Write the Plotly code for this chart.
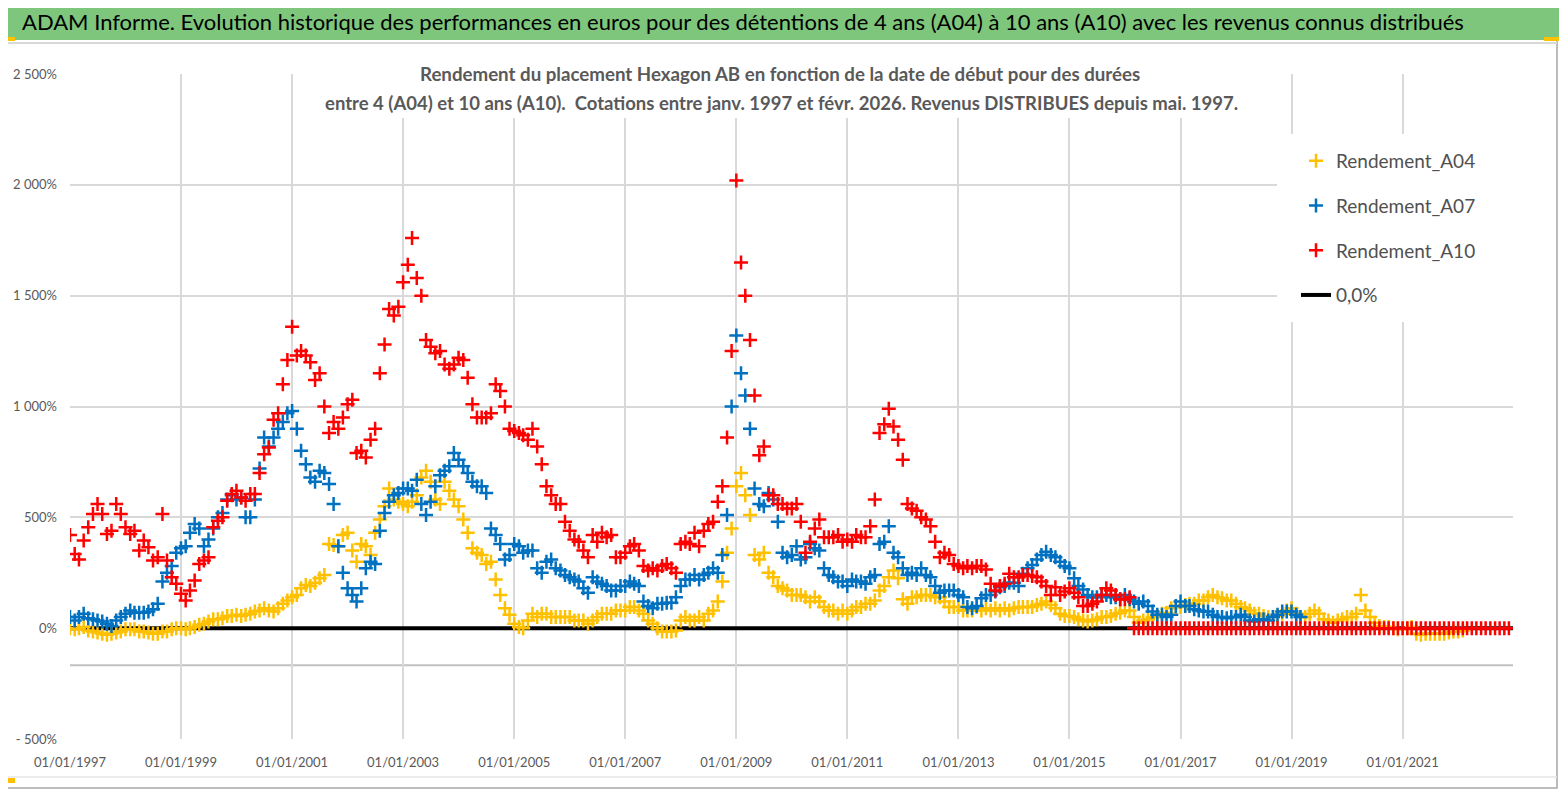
import pandas as pd
import plotly.graph_objects as go

# la page ajoute une marge de 8 px autour de la figure
OFF = 8
W, H = 1567 - OFF, 790 - OFF

# rendements (%), un point par mois a partir de janv. 1997
rdt_a04 = [
    0, -5, 0, 5, -10, -15, -20, -25, -30, -25, -20, -15,            # 1997
    -5, -5, -5, -15, -15, -20, -25, -25, -15, -15, -5, 0,           # 1998
    0, -5, 0, 5, 15, 20, 30, 40, 40, 45, 55, 55,                    # 1999
    60, 55, 60, 65, 75, 80, 90, 80, 75, 90, 110, 125,               # 2000
    140, 150, 180, 195, 190, 205, 225, 240, 380, 375, 370, 420,     # 2001
    430, 350, 300, 380, 370, 330, 430, 490, 550, 630, 580, 570,     # 2002
    560, 550, 570, 600, 680, 710, 660, 580, 560, 660, 620, 580,     # 2003
    550, 490, 430, 360, 340, 330, 290, 300, 220, 150, 90, 60,       # 2004
    20, 5, 0, 35, 65, 50, 65, 65, 50, 50, 50, 50,                   # 2005
    50, 35, 35, 35, 20, 35, 50, 65, 65, 65, 80, 80,                 # 2006
    80, 95, 95, 80, 65, 35, 20, 0, -15, -15, -15, -10,              # 2007
    35, 50, 35, 35, 50, 35, 65, 80, 120, 210, 340, 450,             # 2008
    640, 700, 600, 510, 330, 310, 340, 250, 230, 190, 180, 170,     # 2009
    150, 150, 150, 140, 120, 140, 120, 95, 80, 80, 65, 80,          # 2010
    65, 80, 95, 95, 110, 110, 125, 170, 190, 230, 260, 225,         # 2011
    130, 110, 140, 140, 150, 150, 150, 140, 140, 120, 95, 95,       # 2012
    95, 80, 80, 80, 95, 80, 90, 80, 90, 80, 90, 80,                 # 2013
    90, 95, 95, 95, 95, 105, 110, 120, 105, 90, 65, 55,             # 2014
    55, 50, 40, 35, 30, 35, 40, 50, 50, 55, 65, 70,                 # 2015
    80, 80, 50, 25, 35, 40, 50, 55, 65, 70, 90, 95,                 # 2016
    95, 105, 110, 110, 125, 125, 140, 150, 140, 135, 125, 125,      # 2017
    110, 95, 90, 80, 65, 65, 55, 50, 50, 55, 65, 80,                # 2018
    90, 65, 50, 50, 65, 80, 65, 40, 35, 25, 35, 40,                 # 2019
    50, 50, 65, 150, 80, 50, 25, 10, 5, 5, 0, -5,                   # 2020
    0, 0, 5, -25, -30, -25, -25, -25, -25, -25, -20, -15,           # 2021
    -15, -10,                                                       # 2022
]

rdt_a07 = [
    50, 35, 50, 65, 45, 40, 35, 30, 20, 10, 35, 50,                 # 1997
    65, 80, 70, 70, 70, 75, 85, 110, 210, 250, 280, 340,            # 1998
    360, 370, 430, 470, 450, 370, 400, 450, 500, 520, 580, 600,     # 1999
    580, 590, 500, 500, 580, 720, 860, 820, 860, 900, 930, 970,     # 2000
    980, 900, 800, 740, 680, 660, 710, 700, 650, 560, 370, 250,     # 2001
    180, 150, 120, 180, 270, 300, 290, 440, 520, 570, 600, 610,     # 2002
    630, 630, 620, 670, 560, 510, 570, 640, 690, 710, 730, 790,     # 2003
    760, 730, 700, 660, 640, 640, 610, 450, 420, 380, 310, 330,     # 2004
    380, 370, 340, 350, 350, 270, 250, 300, 310, 270, 260, 240,     # 2005
    230, 220, 210, 180, 160, 230, 210, 200, 190, 170, 170, 190,     # 2006
    190, 210, 200, 190, 120, 100, 90, 110, 110, 115, 115, 140,      # 2007
    190, 220, 220, 240, 220, 240, 250, 270, 250, 330, 510, 1000,    # 2008
    1320, 1150, 1050, 900, 630, 560, 550, 610, 580, 480, 340, 320,  # 2009
    330, 370, 310, 320, 380, 360, 350, 270, 240, 230, 210, 210,     # 2010
    190, 220, 210, 210, 200, 230, 240, 380, 390, 460, 340, 320,     # 2011
    270, 240, 250, 240, 270, 240, 230, 190, 160, 170, 170, 170,     # 2012
    150, 140, 95, 90, 100, 135, 150, 150, 165, 185, 190, 205,       # 2013
    205, 190, 245, 270, 285, 310, 330, 345, 330, 320, 300, 280,     # 2014
    270, 225, 190, 175, 150, 140, 140, 150, 150, 140, 140, 130,     # 2015
    150, 130, 120, 110, 120, 100, 75, 60, 60, 50, 60, 100,          # 2016
    120, 100, 100, 85, 80, 75, 75, 60, 50, 50, 45, 50,              # 2017
    50, 60, 50, 35, 30, 40, 40, 35, 50, 60, 75, 75,                 # 2018
    75, 60, 50,                                                     # 2019
]

rdt_a10 = [
    420, 335, 310, 395, 455, 515, 560, 515, 425, 440, 560, 515,         # 1997
    455, 425, 440, 350, 395, 365, 305, 320, 515, 305, 230, 200,         # 1998
    155, 125, 170, 215, 290, 305, 320, 455, 485, 500, 575, 605,         # 1999
    620, 590, 575, 605, 605, 700, 785, 815, 940, 970, 1100, 1210,       # 2000
    1360, 1230, 1250, 1230, 1200, 1120, 1150, 1000, 880, 930, 900, 950, # 2001
    1010, 1030, 790, 800, 770, 850, 900, 1150, 1280, 1440, 1410, 1450,  # 2002
    1560, 1640, 1760, 1580, 1500, 1300, 1270, 1240, 1250, 1190, 1170, 1190,  # 2003
    1220, 1210, 1130, 1010, 950, 950, 950, 970, 1100, 1070, 1000, 900,  # 2004
    890, 880, 870, 850, 900, 820, 740, 640, 600, 560, 560, 480,         # 2005
    440, 400, 390, 350, 320, 420, 390, 430, 410, 420, 320, 320,         # 2006
    340, 370, 380, 350, 280, 260, 270, 260, 280, 290, 270, 250,         # 2007
    380, 390, 380, 430, 370, 440, 470, 480, 570, 640, 860, 1250,        # 2008
    2020, 1650, 1500, 1300, 1050, 780, 820, 600, 600, 560, 560, 540,    # 2009
    540, 560, 480, 340, 390, 450, 490, 410, 410, 410, 420, 390,         # 2010
    400, 390, 420, 410, 410, 460, 580, 880, 920, 990, 910, 850,         # 2011
    760, 560, 540, 530, 500, 490, 460, 390, 320, 340, 330, 290,         # 2012
    280, 270, 280, 270, 280, 280, 265, 200, 170, 190, 200, 245,         # 2013
    230, 230, 240, 240, 235, 230, 210, 190, 150, 185, 150, 165,         # 2014
    180, 160, 140, 100, 100, 110, 120, 150, 180, 170, 150, 130,         # 2015
    130, 140, 0, 0, 0, 0, 0, 0, 0, 0, 0, 0,                             # 2016
    0, 0, 0, 0, 0, 0, 0, 0, 0, 0, 0, 0,                                 # 2017
    0, 0, 0, 0, 0, 0, 0, 0, 0, 0, 0, 0,                                 # 2018
    0, 0, 0, 0, 0, 0, 0, 0, 0, 0, 0, 0,                                 # 2019
    0, 0, 0, 0, 0, 0, 0, 0, 0, 0, 0, 0,                                 # 2020
    0, 0, 0, 0, 0, 0, 0, 0, 0, 0, 0, 0,                                 # 2021
    0, 0, 0, 0, 0, 0, 0, 0, 0, 0, 0, 0,                                 # 2022
]

zero_dates = ["1997-01-01", "2022-12-31"]
zero_vals = [0, 0]

y_ticks = [-500, 0, 500, 1000, 1500, 2000, 2500]
y_labels = ["- 500%", "0%", "500%", "1 000%", "1 500%", "2 000%", "2 500%"]

title = ("ADAM Informe. Evolution historique des performances en euros pour des détentions "
         "de 4 ans (A04) à 10 ans (A10) avec les revenus connus distribués")
sub1 = "Rendement du placement Hexagon AB en fonction de la date de début pour des durées"
sub2 = ("entre 4 (A04) et 10 ans (A10).  Cotations entre janv. 1997 et févr. 2026. "
        "Revenus DISTRIBUES depuis mai. 1997.")

GRAY = "#595959"
FONT = "Lato"


def fx(px):
    return (px - OFF) / W


def fy(py):
    return 1 - (py - OFF) / H


def months(n):
    return pd.date_range("1997-01-01", periods=n, freq="MS")


def cross(color):
    return dict(symbol="cross-thin", size=10, color=color, line=dict(color=color, width=2.5))


series = [
    ("Rendement_A04", rdt_a04, "#FFC000"),
    ("Rendement_A07", rdt_a07, "#0070C0"),
    ("Rendement_A10", rdt_a10, "#FF0000"),
]

fig = go.Figure()

fig.add_trace(go.Scatter(x=zero_dates, y=zero_vals, mode="lines", name="0,0%",
                         line=dict(color="black", width=4), legendrank=4, legendgroup="z"))

for i, (name, vals, color) in enumerate(series):
    fig.add_trace(go.Scatter(x=months(len(vals)), y=vals, mode="markers", name=name,
                             marker=cross(color), legendrank=i + 1, legendgroup=name))

shapes = [
    # cadre exterieur + bandeau vert
    dict(type="rect", xref="paper", yref="paper", x0=fx(1), x1=fx(1557), y0=fy(788), y1=fy(1),
         line=dict(color="#a6a6a6", width=1.5), layer="below"),
    dict(type="rect", xref="paper", yref="paper", x0=fx(3), x1=fx(1560), y0=fy(40), y1=fy(4),
         fillcolor="#7dc67b", line=dict(width=0), layer="below"),
    dict(type="line", xref="paper", yref="paper", x0=0, x1=fx(1557), y0=fy(43), y1=fy(43),
         line=dict(color="#d9d9d9", width=2), layer="below"),
    dict(type="line", xref="paper", yref="paper", x0=0, x1=fx(1557), y0=fy(777), y1=fy(777),
         line=dict(color="#e6e6e6", width=1.5), layer="below"),
    # fonds blancs du sous-titre et de la legende
    dict(type="rect", xref="paper", yref="paper", x0=fx(319), x1=fx(1241), y0=fy(118), y1=fy(50),
         fillcolor="white", line=dict(width=0), layer="above"),
    dict(type="rect", xref="paper", yref="paper", x0=fx(1277), x1=fx(1520), y0=fy(322), y1=fy(134),
         fillcolor="white", line=dict(width=0), layer="above"),
    # ligne d'axe horizontal
    dict(type="line", xref="paper", yref="y", x0=fx(70), x1=fx(1513), y0=-167, y1=-167,
         line=dict(color="#c0c0c0", width=2), layer="below"),
    # poignees de selection
    dict(type="rect", xref="paper", yref="paper", x0=fx(0), x1=fx(15), y0=fy(41), y1=fy(37),
         fillcolor="#FFC000", line=dict(width=0)),
    dict(type="rect", xref="paper", yref="paper", x0=fx(1544), x1=fx(1565), y0=fy(41), y1=fy(37),
         fillcolor="#FFC000", line=dict(width=0)),
    dict(type="rect", xref="paper", yref="paper", x0=fx(1561), x1=fx(1565), y0=fy(52), y1=fy(37),
         fillcolor="#FFC000", line=dict(width=0)),
    dict(type="rect", xref="paper", yref="paper", x0=fx(0), x1=fx(15), y0=fy(783), y1=fy(778),
         fillcolor="#FFC000", line=dict(width=0)),
    dict(type="rect", xref="paper", yref="paper", x0=fx(1561), x1=fx(1565), y0=fy(760), y1=fy(737),
         fillcolor="#FFC000", line=dict(width=0)),
]

annotations = [
    dict(text=title, xref="paper", yref="paper", x=fx(20), y=fy(22), xanchor="left", yanchor="middle",
         showarrow=False, font=dict(family=FONT, size=22, color="black")),
    dict(text="<b>" + sub1 + "</b>", xref="paper", yref="paper", x=fx(780), y=fy(74),
         xanchor="center", yanchor="middle", showarrow=False,
         font=dict(family=FONT, size=18.7, color=GRAY)),
    dict(text="<b>" + sub2 + "</b>", xref="paper", yref="paper", x=fx(781), y=fy(103),
         xanchor="center", yanchor="middle", showarrow=False,
         font=dict(family=FONT, size=18.5, color=GRAY)),
]

fig.update_layout(
    width=W, height=H,
    margin=dict(l=0, r=0, t=0, b=0, autoexpand=False),
    paper_bgcolor="white", plot_bgcolor="white",
    shapes=shapes, annotations=annotations,
    showlegend=True,
    legend=dict(x=fx(1296), y=fy(142), xanchor="left", yanchor="top",
                bgcolor="rgba(0,0,0,0)", tracegroupgap=17,
                font=dict(family=FONT, size=19, color="#505050")),
    xaxis=dict(domain=[fx(70), fx(1513)], type="date", range=["1997-01-01", "2022-12-28"],
               tick0="1997-01-01", dtick="M24", tickformat="%d/%m/%Y",
               showgrid=True, gridcolor="#d9d9d9", gridwidth=1.5, zeroline=False,
               showline=False, ticks="", ticklabelstandoff=14,
               tickfont=dict(family=FONT, size=13, color=GRAY)),
    yaxis=dict(domain=[fy(739), fy(74)], range=[-500, 2500],
               tickvals=y_ticks, ticktext=y_labels,
               showgrid=True, gridcolor="#d9d9d9", gridwidth=1.5, zeroline=False,
               showline=False, ticks="", ticklabelstandoff=12,
               tickfont=dict(family=FONT, size=13, color=GRAY)),
)

fig.write_html("out.html")
